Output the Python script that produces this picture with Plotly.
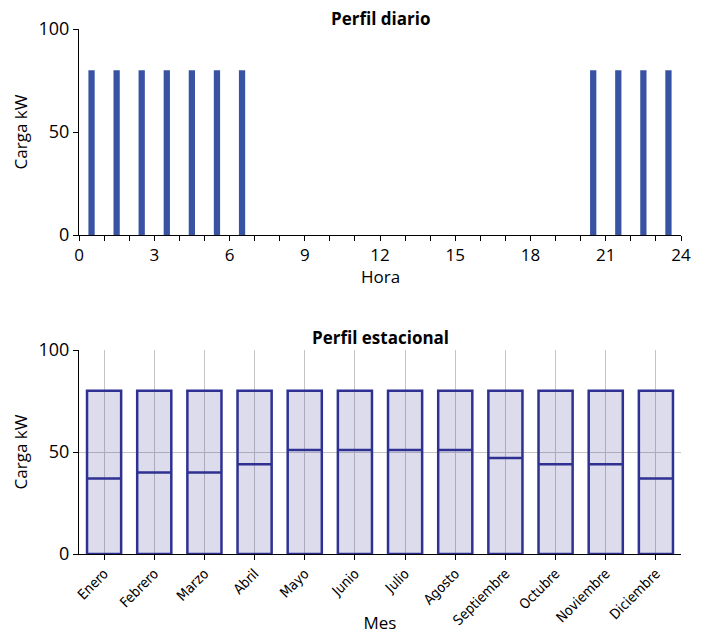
import plotly.graph_objects as go

# ---- data ----
hours = list(range(24))
hourly_load = [80, 80, 80, 80, 80, 80, 80, 0, 0, 0, 0, 0,
               0, 0, 0, 0, 0, 0, 0, 0, 80, 80, 80, 80]

months = ["Enero", "Febrero", "Marzo", "Abril", "Mayo", "Junio", "Julio",
          "Agosto", "Septiembre", "Octubre", "Noviembre", "Diciembre"]
q1 = [0] * 12
q3 = [80] * 12
lower = [0] * 12
upper = [80] * 12
median = [37, 40, 40, 44, 51, 51, 51, 51, 47, 44, 44, 37]

hour_ticks = list(range(25))
hour_ticktext = [str(h) if h % 3 == 0 else "" for h in hour_ticks]

FONT = "Open Sans, Noto Sans, sans-serif"
NARROW = "Liberation Sans Narrow, DejaVu Sans Condensed, sans-serif"

fig = go.Figure()

fig.add_trace(go.Bar(
    x=[h + 0.5 for h in hours], y=hourly_load, width=0.25,
    marker=dict(color="#3953a4", line=dict(width=0)),
    xaxis="x", yaxis="y", showlegend=False, hoverinfo="skip",
))

fig.add_trace(go.Box(
    x=months, q1=q1, median=median, q3=q3, lowerfence=lower, upperfence=upper,
    width=0.68, fillcolor="rgba(46,49,146,0.17)",
    line=dict(color="#2e3192", width=2.5),
    xaxis="x2", yaxis="y2", showlegend=False,
))

# page body has an 8px margin -> figure is offset by 8px
OFF = 8
W, H = 704 - OFF, 634 - OFF
left_px, right_px = 79, 681
top_px, bottom_px = 29, 554
span = bottom_px - top_px

def py(p):
    return (bottom_px - p) / span

common_ticks = dict(ticks="outside", ticklen=5, tickwidth=1, tickcolor="black",
                    showline=True, linecolor="black", linewidth=1,
                    zeroline=False, automargin=False)

fig.update_layout(
    width=W, height=H,
    margin=dict(l=left_px - OFF, r=W + OFF - right_px, t=top_px - OFF, b=H + OFF - bottom_px),
    paper_bgcolor="white", plot_bgcolor="white",
    font=dict(family=FONT, size=17, color="black"),
    xaxis=dict(
        domain=[0, 1], anchor="y", range=[0, 24],
        tickvals=hour_ticks, ticktext=hour_ticktext,
        showgrid=False,
        tickfont=dict(size=17),
        **common_ticks,
    ),
    yaxis=dict(
        domain=[py(235), 1], anchor="x", range=[0, 100],
        tickvals=[0, 50, 100],
        showgrid=False,
        title=dict(text="Carga kW", standoff=6, font=dict(size=17)),
        tickfont=dict(size=18),
        **common_ticks,
    ),
    xaxis2=dict(
        domain=[0, 1], anchor="y2", range=[-0.5, 11.5],
        type="category",
        showgrid=True, gridcolor="#c4c4c4", gridwidth=1.3,
        tickangle=-45, tickfont=dict(family=NARROW, size=14),
        title=dict(text="Mes", standoff=4, font=dict(size=17)),
        **common_ticks,
    ),
    yaxis2=dict(
        domain=[0, py(350)], anchor="x2", range=[0, 100],
        tickvals=[0, 50, 100],
        showgrid=True, gridcolor="#c4c4c4", gridwidth=1.3,
        title=dict(text="Carga kW", standoff=6, font=dict(size=17)),
        tickfont=dict(size=18),
        **common_ticks,
    ),
    annotations=[
        dict(text="<b>Perfil diario</b>", x=0.5, xref="paper", y=1, yref="paper",
             yanchor="middle", yshift=11, showarrow=False, font=dict(size=17)),
        dict(text="<b>Perfil estacional</b>", x=0.5, xref="paper", y=py(350), yref="paper",
             yanchor="middle", yshift=13, showarrow=False, font=dict(size=17)),
        dict(text="Hora", x=0.5, xref="paper", y=py(235), yref="paper",
             yanchor="middle", yshift=-41, showarrow=False, font=dict(size=17)),
    ],
)

fig.write_html("out.html")
